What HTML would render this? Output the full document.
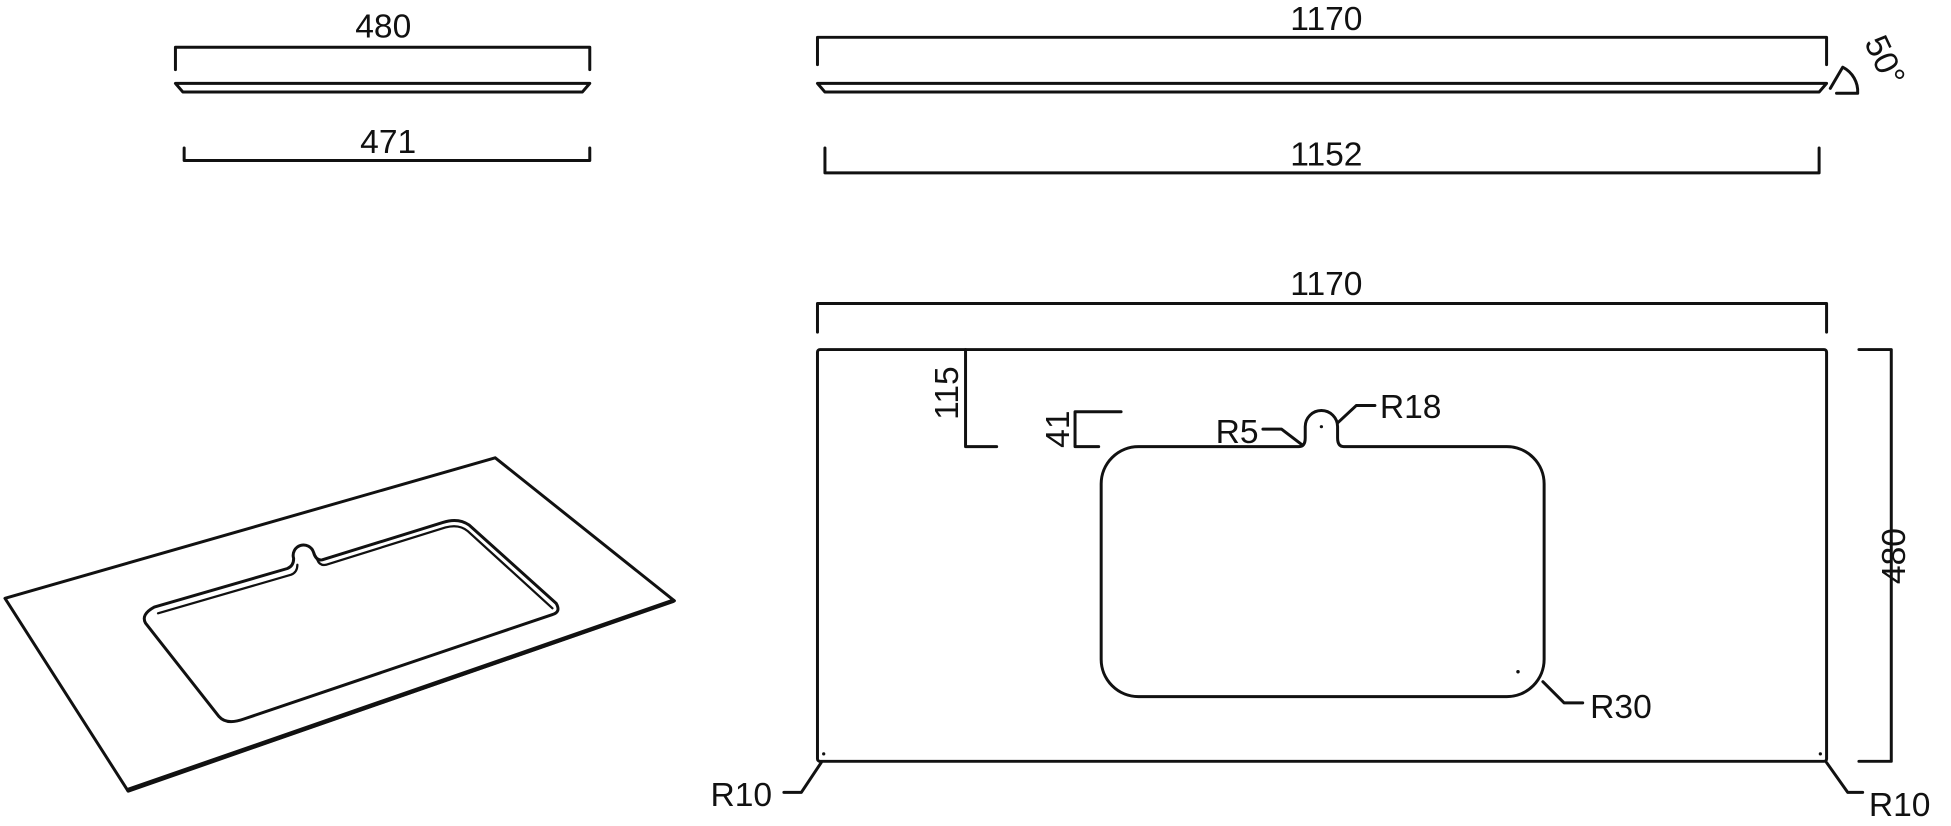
<!DOCTYPE html>
<html><head><meta charset="utf-8"><style>
html,body{margin:0;padding:0;background:#fff;}
svg{display:block;}
text{font-family:"Liberation Sans",sans-serif;font-size:27px;fill:#111;}
</style></head><body>
<svg width="1951" height="826" viewBox="0 0 1568 664" preserveAspectRatio="none" xmlns="http://www.w3.org/2000/svg">
<g fill="none" stroke="#111" stroke-width="2.4" stroke-linejoin="round" stroke-linecap="round">
<!-- top left side view -->
<path d="M141,56 V38 H474 V56"/>
<path d="M141,67 H474 L468,74 H147 Z"/>
<path d="M148,119 V129 H474 V119"/>
<!-- top right side view -->
<path d="M657,52 V30 H1468 V52"/>
<path d="M657,67 H1468 L1462,74 H663 Z"/>
<path d="M663,119 V139 H1462 V119"/>
<path d="M1471,71 L1481,54 A22,22 0 0 1 1493,75 M1476,75 H1493"/>
<!-- plan view -->
<path d="M657,267 V244 H1468 V267"/>
<rect x="657" y="281" width="811" height="331" rx="2"/>
<path d="M1494,281 H1520 V612 H1494"/>
<path d="M776,281 V359 H801"/>
<path d="M901,331 H864 V359 H883"/>
<path d="M915,359 H1044 Q1049,359 1049,352 V343 A13,13 0 0 1 1075,343 V352 Q1075,359 1080,359 H1211 A30,30 0 0 1 1241,389 V530 A30,30 0 0 1 1211,560 H915 A30,30 0 0 1 885,530 V389 A30,30 0 0 1 915,359 Z"/>
<path d="M1015,345 H1030 L1047,358"/>
<path d="M1075,340 L1090,326 H1105"/>
<path d="M1240,548 L1257,565 H1272"/>
<path d="M660,613 L644,637 H630"/>
<path d="M1468,613 L1485,637 H1497"/>
<!-- isometric -->
<path d="M4,481 L398,368 L542,483 L103,636 Z"/>
<path d="M103,635 L541,483" stroke-width="3.5"/>
<path d="M124,488 L231,457 Q236,455 236,449 A8,8 0 0 1 252,444 Q254,451 259,450 L356,420 Q368,416 377,422 L447,485 Q451,492 444,494 L196,578 Q182,583 176,576 L117,501 Q113,494 124,488 Z"/>
<path d="M127,493 L234,462 Q239,460 239,454 M255,450 Q257,455 262,454 L358,424 Q369,421 376,427 L444,489" stroke-width="1.8"/>
</g>
<g fill="#111">
<circle cx="662" cy="606" r="1.3"/><circle cx="1463" cy="606" r="1.3"/><circle cx="1220" cy="540" r="1.4"/><circle cx="1062" cy="343" r="1.3"/>
</g>
<text x="308" y="30" text-anchor="middle">480</text>
<text x="312" y="123" text-anchor="middle">471</text>
<text x="1066" y="24" text-anchor="middle">1170</text>
<text x="1066" y="133" text-anchor="middle">1152</text>
<text x="1066" y="237" text-anchor="middle">1170</text>
<text transform="translate(1498,34) rotate(65)">50°</text>
<text transform="translate(1531,447) rotate(-90)" text-anchor="middle">480</text>
<text transform="translate(770,316) rotate(-90)" text-anchor="middle">115</text>
<text transform="translate(859,345) rotate(-90)" text-anchor="middle">41</text>
<text x="977" y="356">R5</text>
<text x="1109" y="336">R18</text>
<text x="1278" y="577">R30</text>
<text x="571" y="648">R10</text>
<text x="1502" y="656">R10</text>
</svg>
</body></html>
